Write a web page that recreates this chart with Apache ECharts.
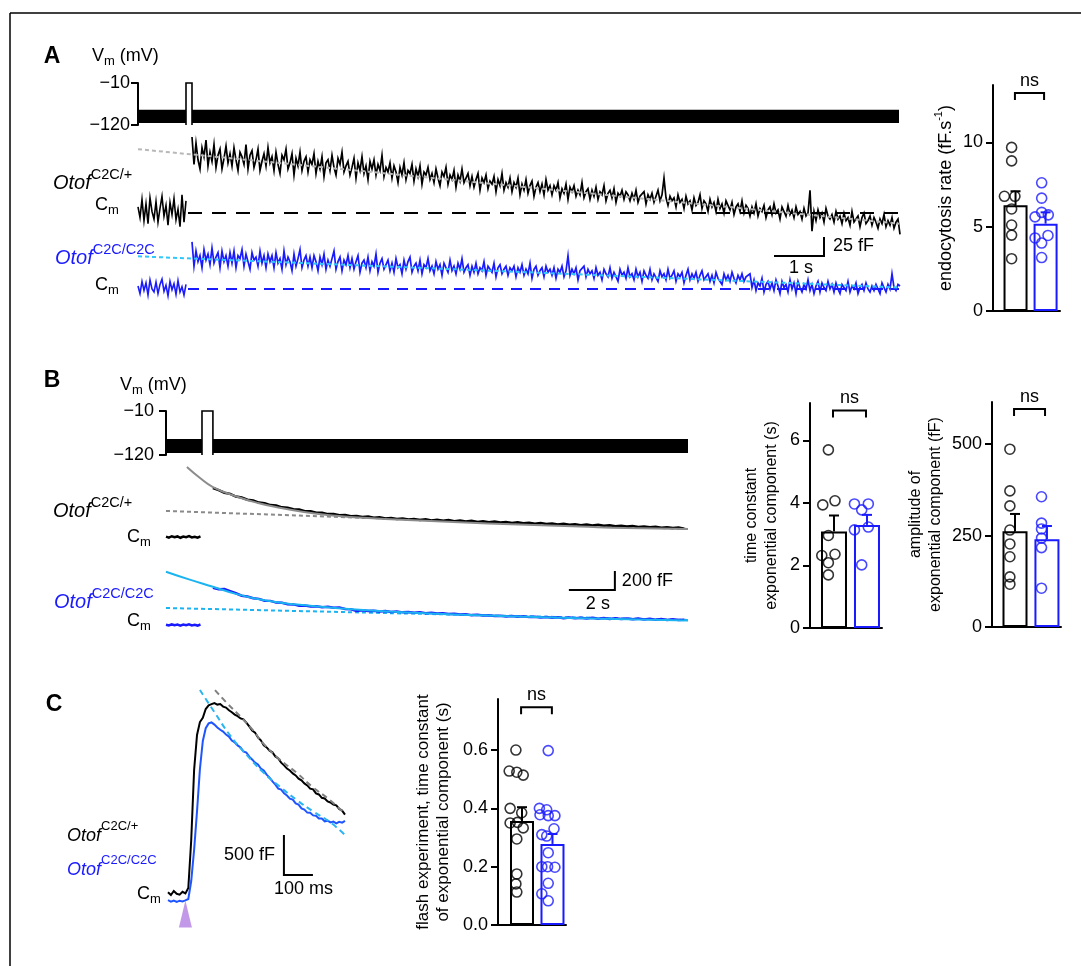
<!DOCTYPE html>
<html><head><meta charset="utf-8">
<script src="https://cdn.jsdelivr.net/npm/echarts@6/dist/echarts.min.js"></script>
<style>html,body{margin:0;padding:0;background:#fff}#c{width:1081px;height:966px}</style>
</head><body><div id="c"></div>
<script>
const FONT = "'Liberation Sans', Arial, Helvetica, sans-serif";
const BLUE = '#1a1aff';
const CYAN = '#1cb4f0';

// ---------------- Panel A ----------------
const aVmTicks = [-120, -10];
const aVmBand = [-115, -80];                 // envelope of the holding sine stimulus (mV)
const aVmSegments = [[0, 0.96], [1.08, 15.22]]; // s
const aPulse = [0.96, 1.08, -120, -10];
const aPreT0 = 0, aPreDt = 0.04, aPostT0 = 1.08, aPostDt = 0.04;
const aBkPre = [8,-6,18,-10,12,-14,20,2,-8,15,-12,6,22,-4,10,-16,14,-2,19,-9,5,-18,24,-12,16];
const aBkPost = [
100,64,92,70,58,86,74,96,62,80,68,90,60,76,84,58,72,88,66,78,
62,86,70,56,80,74,64,90,58,76,82,60,70,84,56,68,78,62,86,66,
74,56,80,64,52,76,70,84,58,66,78,50,72,62,80,56,68,74,54,70,
64,78,52,68,58,74,48,66,70,56,76,60,50,72,64,80,54,62,68,50,
60,72,46,66,56,74,52,62,44,68,58,70,50,64,56,76,48,60,54,66,
46,62,54,40,60,50,66,44,56,52,64,42,58,48,62,38,54,50,60,44,
52,40,58,46,36,54,48,60,38,50,44,56,34,50,42,58,40,46,52,36,
48,34,44,52,30,46,40,50,32,42,38,48,28,44,36,52,30,40,34,46,
28,40,34,46,24,38,30,44,26,36,42,22,34,40,28,38,24,44,30,36,
24,36,30,40,20,32,26,38,18,34,28,36,22,30,24,40,20,28,32,18,
30,22,34,18,28,24,36,16,26,30,20,32,14,26,22,30,18,28,24,16,
26,18,30,14,22,20,28,12,24,18,26,14,22,30,16,24,46,20,10,22,
16,20,8,24,14,18,6,22,12,16,4,20,10,14,24,6,16,12,2,18,
8,14,2,18,6,12,0,16,10,4,14,-2,8,12,2,16,0,10,6,-4,
8,0,12,-4,6,2,10,-6,4,8,-2,12,0,4,-8,8,2,-4,10,-2,
4,-6,8,-2,2,-8,6,-4,0,30,-24,2,-10,4,-6,0,-12,6,-4,-8,
-2,-12,2,-8,-4,-14,0,-10,-6,-16,2,-12,-8,-4,-18,-6,0,-14,-10,-4,
-16,-6,-12,-20,-8,-14,-2,-18,-10,-16,-6,-20,-12,-8,-28];
const aBlPre = [4,-6,10,-2,8,-8,12,0,-4,9,-6,6,13,-3,5,-9,10,-1,7,-7,11,-4,3,-8,6];
const aBlPost = [
62,30,50,36,44,28,52,38,46,32,54,34,42,48,28,50,36,44,30,48,
34,50,28,44,40,52,30,46,36,26,48,38,42,30,50,34,44,28,46,36,
44,28,48,34,40,26,50,32,42,36,24,46,30,40,52,28,38,44,30,42,
28,44,36,24,42,32,46,26,38,30,40,50,26,36,42,24,38,32,44,28,
40,26,36,44,22,34,38,28,42,24,36,30,46,22,34,40,26,32,38,24,
34,22,40,28,32,20,38,26,36,42,22,30,34,24,38,20,32,28,40,24,
30,20,36,26,32,18,34,28,22,38,24,30,20,34,26,40,22,28,32,18,
30,22,34,20,28,24,36,18,30,26,22,34,16,28,32,20,26,30,18,28,
24,30,16,28,22,32,18,26,20,34,14,26,30,18,24,28,16,30,22,26,
18,28,14,26,22,30,16,24,44,18,26,20,28,12,24,22,30,16,26,20,
24,14,28,18,22,12,26,20,16,28,14,22,24,10,26,18,22,14,28,16,
20,12,26,16,22,10,24,18,14,26,12,20,22,10,24,16,20,12,26,14,
18,24,10,20,16,22,8,18,26,12,20,14,22,10,18,24,12,16,20,10,
18,8,22,14,16,6,20,12,18,10,22,14,8,18,12,20,10,16,14,20,
2,12,-2,8,4,14,-4,6,10,0,8,-2,12,4,-6,10,2,6,-4,12,
0,8,-6,10,2,-4,6,0,12,-2,6,-6,4,10,-4,8,2,-2,10,0,
6,-4,8,0,-6,6,2,-2,10,-4,4,0,8,-6,2,6,-2,8,0,-4,
4,-2,6,0,-6,8,2,-4,6,0,20,2,-2,6,4];
const aBkFit = [[0, 84], [15.22, -14]];
const aBlFit = [[0, 43], [15.22, 2]];
const aBaseline = [[1.0, 0], [15.22, 0]];
const aScale = [12.72, -56.6, 13.72, -31.6];   // 1 s, 25 fF
// bar: endocytosis rate
const aRateMean = [6.27, 5.18];
const aRateSem = [0.83, 0.67];
const aRateCtl = [9.7, 8.9, 6.8, 6.8, 6.05, 5.1, 4.5, 3.1];
const aRateCtlJit = [-0.13, -0.13, -0.37, -0.02, -0.13, -0.13, -0.13, -0.13];
const aRateMut = [7.6, 6.69, 5.85, 5.58, 5.7, 4.33, 4.48, 4.03, 3.17];
const aRateMutJit = [-0.13, -0.13, -0.13, -0.35, 0.09, -0.35, 0.08, -0.13, -0.13];
const aRateTicks = [0, 5, 10];

// ---------------- Panel B ----------------
const bVmSegments = [[0, 1.565], [2.04, 22.7]];
const bPulse = [1.565, 2.04, -120, -10];
const bPreT0 = 0, bPreDt = 0.125, bPostT0 = 2.04, bPostDt = 0.25;
const bBkPre = [4,-6,8,-3,6,-8,5,-2,9,-5,3,-7,6];
const bBkPost = [516,494,466,454,426,416,392,384,362,356,
336,332,312,309,292,290,272,271,256,255,
241,243,229,232,219,222,210,215,202,207,
195,200,189,194,184,190,180,186,175,181,
170,178,166,173,163,170,159,166,156,162,
152,158,148,155,144,151,140,147,137,142,
132,139,129,135,125,131,121,128,118,123,
114,119,110,115,106,111,102,107,98,103,
94,99,88];
const bBkFit = [[0.91,737],[1.48,621],[2.04,526],[3,432],[4,358],[5,305],[6,263],[7,232],[8,211],[10,184],[12,163],[14,142],[16,126],[18,110],[20,95],[22.7,84]];
const bBkLin = [[0, 274], [22.7, 84]];
const bBlPre = [3,-5,6,-2,5,-6,4,-3,7,-4,2,-6,5];
const bBlPost = [392,376,378,356,334,308,300,281,275,256,
254,236,233,218,217,203,205,194,198,188,
193,182,183,168,165,148,154,147,151,142,
147,138,143,133,138,129,134,125,129,120,
124,115,119,110,114,104,108,99,103,94,
98,90,95,86,92,83,88,80,85,76,
81,72,79,70,77,68,75,66,73,64,
71,62,69,60,67,58,65,56,63,54,
60,52,56];
const bBlFit = [[0,561],[1,480],[2.04,403],[3,330],[4.22,263],[5.7,215],[7.13,185],[8.57,158],[11.48,121],[14.52,95],[17.57,74],[20.6,58],[22.7,47]];
const bBlLin = [[0, 179], [22.7, 53]];
const bScale = [17.52, 368, 19.52, 568];   // 2 s, 200 fF
const bTauMean = [3.09, 3.30], bTauSem = [0.51, 0.32];
const bTauCtl = [5.7, 3.94, 4.07, 2.96, 2.32, 2.36, 2.09, 1.70];
const bTauCtlJit = [-0.17, -0.34, 0.03, -0.17, -0.37, 0.03, -0.17, -0.17];
const bTauMut = [3.97, 3.97, 3.78, 3.14, 3.23, 2.02];
const bTauMutJit = [-0.38, 0.04, -0.16, -0.38, 0.04, -0.16];
const bTauTicks = [0, 2, 4, 6];
const bAmpMean = [262, 240], bAmpSem = [47, 36];
const bAmpCtl = [486, 372, 331, 265, 227, 192, 137, 117];
const bAmpCtlJit = [-0.16, -0.16, -0.16, -0.16, -0.16, -0.16, -0.16, -0.16];
const bAmpMut = [356, 284, 268, 243, 217, 106];
const bAmpMutJit = [-0.17, -0.17, -0.17, -0.17, -0.17, -0.17];
const bAmpTicks = [0, 250, 500];

// ---------------- Panel C ----------------
const cT0 = -65, cDt = 10;   // ms
const cBk = [110,75,125,90,80,115,95,
162,760,1637,2075,2237,2290,2400,2445,2460,2475,
2455,2462,2430,2418,2385,2360,2330,2310,2282,2270,
2230,2182,2130,2105,2045,2008,1945,1920,1880,1858,
1805,1782,1730,1695,1655,1632,1595,1570,1530,1508,
1470,1445,1405,1395,1345,1332,1290,1282,1245,1232,
1205,1195,1150,1130,1080];
const cBl = [10,-8,6,-12,4,-5,8,
25,250,640,1120,1650,2000,2160,2220,2232,2205,
2170,2140,2118,2080,2055,2005,1982,1945,1918,1870,
1856,1805,1768,1730,1706,1655,1630,1580,1542,1495,
1455,1405,1392,1345,1318,1280,1268,1220,1205,1158,
1142,1105,1104,1070,1066,1032,1030,996,1004,982,
992,970,990,980,1002];
const cBkFit = [[97,2637],[138,2475],[183,2312],[230,2125],[262,1975],[320,1770],[379,1600],[435,1420],[493,1262],[545,1087]];
const cBlFit = [[45,2637],[97,2350],[148,2075],[205,1830],[262,1612],[320,1430],[379,1262],[435,1120],[493,987],[545,825]];
const cFlash = [[-5, -162]];
const cScale = [334.5, 325, 434.5, 825];  // 100 ms, 500 fF
const cTauMean = [0.357, 0.278], cTauSem = [0.047, 0.034];
const cTauCtl = [0.600,0.528,0.524,0.514,0.40,0.385,0.35,0.352,0.333,0.295,0.175,0.141,0.113];
const cTauCtlJit = [-0.2,-0.42,-0.17,0.04,-0.39,-0.01,-0.39,-0.15,0.04,-0.17,-0.17,-0.2,-0.17];
const cTauMut = [0.598,0.40,0.395,0.378,0.375,0.375,0.33,0.31,0.305,0.248,0.20,0.20,0.198,0.143,0.107,0.083];
const cTauMutJit = [-0.14,-0.43,-0.19,-0.41,-0.14,0.08,0.05,-0.35,-0.19,-0.14,-0.35,-0.16,0.08,-0.14,-0.35,-0.14];
const cTauTicks = [0, 0.2, 0.4, 0.6];

// ---------------- helpers ----------------
const grids = [
  {left:138, top:83, width:761, height:42},
  {left:138, top:129.4, width:761, height:129.2},
  {left:138, top:235.8, width:761, height:68.4},
  {left:993, top:85, width:67, height:226},
  {left:166, top:411, width:522, height:44},
  {left:166, top:461, width:522, height:95},
  {left:166, top:558.5, width:522, height:76},
  {left:810, top:403, width:72, height:225},
  {left:992, top:402, width:69, height:225},
  {left:168, top:685, width:177, height:248},
  {left:498, top:699, width:68, height:226}
];
function hid(k, min, max) { return {type:'value', gridIndex:k, min:min, max:max, show:false}; }
function barX(k, min, max) {
  return {type:'value', gridIndex:k, min:min, max:max,
    axisLine:{show:true, onZero:false, lineStyle:{color:'#000', width:2}},
    axisTick:{show:false}, axisLabel:{show:false}, splitLine:{show:false}};
}
function visY(k, min, max, ticks, fmt, margin, name, nameGap, nameSize, rich) {
  const o = {type:'value', gridIndex:k, min:min, max:max,
    axisLine:{show:true, onZero:false, lineStyle:{color:'#000', width:2}},
    axisTick:{show:true, length:7, lineStyle:{color:'#000', width:2}, customValues:ticks},
    axisLabel:{show:true, margin:margin, color:'#000', fontSize:18, fontFamily:FONT, customValues:ticks, formatter:fmt},
    splitLine:{show:false}};
  if (name) {
    o.name = name; o.nameLocation = 'middle'; o.nameRotate = 90; o.nameGap = nameGap;
    o.nameTextStyle = {color:'#000', fontSize:nameSize, fontFamily:FONT, lineHeight:20, rich:rich || {}};
  }
  return o;
}
const vmFmt = v => '\u2212' + Math.abs(v);
function pairs(arr, t0, dt) { return arr.map((v, i) => [t0 + i * dt, v]); }
function line(k, data, color, width, dash, z) {
  return {type:'line', xAxisIndex:k, yAxisIndex:k, data:data, showSymbol:false, symbol:'none',
    smooth:false, clip:false, z:z || 2, silent:true, sampling:null,
    lineStyle:{color:color, width:width, type:dash || 'solid', cap:'butt', join:'miter'}};
}
function bandSeries(k, segs, band) {
  return {type:'custom', xAxisIndex:k, yAxisIndex:k, silent:true, z:2,
    data: segs.map(s => [s[0], s[1], band[0], band[1]]),
    renderItem(p, api) {
      const a = api.coord([api.value(0), api.value(3)]), b = api.coord([api.value(1), api.value(2)]);
      return {type:'rect', shape:{x:a[0], y:a[1], width:b[0]-a[0], height:b[1]-a[1]}, style:{fill:'#000'}};
    }};
}
function pulseLine(k, p) {
  return line(k, [[p[0], p[2]], [p[0], p[3]], [p[1], p[3]], [p[1], p[2]]], '#000', 1.6);
}
function barSeries(k, means, w) {
  return {type:'bar', xAxisIndex:k, yAxisIndex:k, barWidth:w, z:3, silent:true,
    data:[{value:[0, means[0]], itemStyle:{borderColor:'#000'}}, {value:[1, means[1]], itemStyle:{borderColor:BLUE}}],
    itemStyle:{color:'#fff', borderWidth:2}};
}
function errSeries(k, x, mean, sem, color) {
  return {type:'custom', xAxisIndex:k, yAxisIndex:k, z:4, silent:true, data:[[x, mean, mean + sem]],
    renderItem(p, api) {
      const b = api.coord([api.value(0), api.value(1)]), t = api.coord([api.value(0), api.value(2)]);
      return {type:'group', children:[
        {type:'line', shape:{x1:b[0], y1:b[1], x2:t[0], y2:t[1]}, style:{stroke:color, lineWidth:2}},
        {type:'line', shape:{x1:t[0]-5, y1:t[1], x2:t[0]+5, y2:t[1]}, style:{stroke:color, lineWidth:2}}]};
    }};
}
function dots(k, vals, jit, base, color) {
  return {type:'scatter', xAxisIndex:k, yAxisIndex:k, z:5, silent:true, symbol:'circle', symbolSize:10,
    data: vals.map((v, i) => [base + jit[i], v]),
    itemStyle:{color:'rgba(255,255,255,0)', borderColor:color, borderWidth:1.6}};
}
function nsSeries(k, x1, x2, y) {
  return {type:'custom', xAxisIndex:k, yAxisIndex:k, z:5, silent:true, clip:false, data:[[x1, x2, y]],
    renderItem(p, api) {
      const a = api.coord([api.value(0), api.value(2)]), b = api.coord([api.value(1), api.value(2)]);
      return {type:'group', children:[
        {type:'polyline', shape:{points:[[a[0], a[1]+7], [a[0], a[1]], [b[0], b[1]], [b[0], b[1]+7]]},
          style:{stroke:'#000', lineWidth:2, fill:null}},
        {type:'text', style:{text:'ns', x:(a[0]+b[0])/2, y:a[1]-3, align:'center', verticalAlign:'bottom',
          textAlign:'center', textVerticalAlign:'bottom', fontSize:18, fontFamily:FONT, fill:'#000'}}]};
    }};
}
function scaleSeries(k, bar, o) {
  return {type:'custom', xAxisIndex:k, yAxisIndex:k, z:6, silent:true, clip:false, data:[bar],
    renderItem(p, api) {
      const x0 = api.value(0), y0 = api.value(1), x1 = api.value(2), y1 = api.value(3);
      const vx = o.vLeft ? x0 : x1;
      const a = api.coord([x0, y0]), b = api.coord([x1, y0]), c = api.coord([vx, y0]), d = api.coord([vx, y1]);
      const pts = o.vLeft ? [d, c, b] : [a, b, d];
      return {type:'group', children:[
        {type:'polyline', shape:{points:pts}, style:{stroke:'#000', lineWidth:2, fill:null}},
        {type:'text', style:{text:o.vText, x:o.vLeft ? c[0]-9 : c[0]+o.vdx, y:(c[1]+d[1])/2,
          align:o.vLeft ? 'right' : 'left', verticalAlign:'middle', textAlign:o.vLeft ? 'right' : 'left',
          textVerticalAlign:'middle', fontSize:18, fontFamily:FONT, fill:'#000'}},
        {type:'text', style:{text:o.hText, x:(a[0]+b[0])/2 + o.hdx, y:a[1]+o.hdy, align:'center', verticalAlign:'top',
          textAlign:'center', textVerticalAlign:'top', fontSize:18, fontFamily:FONT, fill:'#000'}}]};
    }};
}

// ---------------- text graphics ----------------
function geno(x, y, sup, color, size, supSize) {
  return {type:'text', x:x, y:y, silent:true, style:{text:'{o|Otof}{s|' + sup + '}', align:'left', verticalAlign:'middle',
    rich:{o:{fontStyle:'italic', fontSize:size, fontFamily:FONT, lineHeight:32, fill:color, color:color},
          s:{fontSize:supSize, fontFamily:FONT, lineHeight:13, verticalAlign:'top', fill:color, color:color}}}};
}
function cm(x, y) {
  return {type:'text', x:x, y:y, silent:true, style:{text:'{c|C}{m|m}', align:'left', verticalAlign:'middle',
    rich:{c:{fontSize:18, fontFamily:FONT, lineHeight:24, fill:'#000'},
          m:{fontSize:13, fontFamily:FONT, lineHeight:12, verticalAlign:'bottom', fill:'#000'}}}};
}
function vm(x, y) {
  return {type:'text', x:x, y:y, silent:true, style:{text:'{v|V}{m|m}{v| (mV)}', align:'left', verticalAlign:'middle',
    rich:{v:{fontSize:18, fontFamily:FONT, lineHeight:24, fill:'#000'},
          m:{fontSize:13, fontFamily:FONT, lineHeight:12, verticalAlign:'bottom', fill:'#000'}}}};
}
function letter(x, y, t) {
  return {type:'text', x:x, y:y, silent:true, style:{text:t, align:'center', verticalAlign:'middle',
    fontSize:23, fontWeight:'bold', fontFamily:FONT, fill:'#000'}};
}

const graphic = [
  {type:'line', silent:true, shape:{x1:10, y1:13, x2:1081, y2:13}, style:{stroke:'#000', lineWidth:1.5}},
  {type:'line', silent:true, shape:{x1:10, y1:13, x2:10, y2:966}, style:{stroke:'#000', lineWidth:1.5}},
  letter(52, 57, 'A'), letter(52, 381, 'B'), letter(54, 705, 'C'),
  vm(92, 56), vm(120, 385),
  geno(53, 183, 'C2C/+', '#000', 20, 14.5), cm(95, 205), geno(55, 258, 'C2C/C2C', BLUE, 20, 14.5), cm(95, 285),
  geno(53, 511, 'C2C/+', '#000', 20, 14.5), cm(127, 537), geno(54, 602, 'C2C/C2C', BLUE, 20, 14.5), cm(127, 621),
  geno(67, 836, 'C2C/+', '#000', 18, 13), geno(67, 870, 'C2C/C2C', BLUE, 18, 13), cm(137, 894)
];

const option = {
  animation:false,
  backgroundColor:'#fff',
  textStyle:{fontFamily:FONT},
  grid: grids.map(g => Object.assign({containLabel:false, outerBoundsMode:'none'}, g)),
  xAxis: [
    hid(0, 0, 15.22), hid(1, 0, 15.22), hid(2, 0, 15.22), barX(3, -0.75, 1.48),
    hid(4, 0, 22.7), hid(5, 0, 22.7), hid(6, 0, 22.7), barX(7, -0.727, 1.455), barX(8, -0.72, 1.44),
    hid(9, -65, 545), barX(10, -0.787, 1.443)
  ],
  yAxis: [
    visY(0, -120, -10, aVmTicks, vmFmt, 8),
    hid(1, -60, 110), hid(2, -20, 70),
    visY(3, 0, 13.4, aRateTicks, v => String(v), 10, '{n|endocytosis rate (fF.s}{p|-1}{n|)}', 31, 18,
      {n:{fontSize:18, fontFamily:FONT, color:'#000', lineHeight:26}, p:{fontSize:11, fontFamily:FONT, color:'#000', lineHeight:11, verticalAlign:'top'}}),
    visY(4, -120, -10, aVmTicks, vmFmt, 12),
    hid(5, -200, 800), hid(6, -100, 700),
    visY(7, 0, 7.2, bTauTicks, v => String(v), 10, 'time constant\nexponential component (s)', 28, 16),
    visY(8, 0, 615, bAmpTicks, v => String(v), 10, 'amplitude of\nexponential component (fF)', 46, 16),
    hid(9, -400, 2700),
    visY(10, 0, 0.775, cTauTicks, v => v.toFixed(1), 10, 'flash experiment, time constant\nof exponential component (s)', 45, 17)
  ],
  series: [
    // A Vm
    bandSeries(0, aVmSegments, aVmBand), pulseLine(0, aPulse),
    // A traces
    line(1, aBaseline, '#000', 2, [14, 10]),
    line(1, pairs(aBkPre, aPreT0, aPreDt), '#000', 1.6),
    line(1, pairs(aBkPost, aPostT0, aPostDt), '#000', 1.7),
    line(1, aBkFit, '#b8b8b8', 2, [4, 3], 3),
    line(2, aBaseline, BLUE, 2, [11, 8]),
    line(2, pairs(aBlPre, aPreT0, aPreDt), BLUE, 1.6),
    line(2, pairs(aBlPost, aPostT0, aPostDt), BLUE, 1.7),
    line(2, aBlFit, '#30c8f8', 2, [4, 3], 3),
    scaleSeries(1, aScale, {vText:'25 fF', hText:'1 s', vdx:9, hdx:2, hdy:3}),
    // A bars
    barSeries(3, aRateMean, 24),
    errSeries(3, 0, aRateMean[0], aRateSem[0], '#000'), errSeries(3, 1, aRateMean[1], aRateSem[1], BLUE),
    dots(3, aRateCtl, aRateCtlJit, 0, '#000'), dots(3, aRateMut, aRateMutJit, 1, BLUE),
    nsSeries(3, -0.02, 0.95, 12.92),
    // B Vm
    bandSeries(4, bVmSegments, aVmBand), pulseLine(4, bPulse),
    // B traces
    line(5, bBkLin, '#8a8a8a', 2, [4, 3]),
    line(5, pairs(bBkPre, bPreT0, bPreDt), '#000', 2.5),
    line(5, pairs(bBkPost, bPostT0, bPostDt), '#000', 2.5),
    Object.assign(line(5, bBkFit, '#8c8c8c', 2, 'solid', 3), {smooth:true}),
    line(6, bBlLin, CYAN, 2, [4, 3]),
    line(6, pairs(bBlPre, bPreT0, bPreDt), BLUE, 2.5),
    line(6, pairs(bBlPost, bPostT0, bPostDt), BLUE, 2.5),
    Object.assign(line(6, bBlFit, CYAN, 2, 'solid', 3), {smooth:true}),
    scaleSeries(6, bScale, {vText:'200 fF', hText:'2 s', vdx:7, hdx:6, hdy:5}),
    // B bars
    barSeries(7, bTauMean, 26),
    errSeries(7, 0, bTauMean[0], bTauSem[0], '#000'), errSeries(7, 1, bTauMean[1], bTauSem[1], BLUE),
    dots(7, bTauCtl, bTauCtlJit, 0, '#000'), dots(7, bTauMut, bTauMutJit, 1, BLUE),
    nsSeries(7, -0.03, 0.97, 6.96),
    barSeries(8, bAmpMean, 25),
    errSeries(8, 0, bAmpMean[0], bAmpSem[0], '#000'), errSeries(8, 1, bAmpMean[1], bAmpSem[1], BLUE),
    dots(8, bAmpCtl, bAmpCtlJit, 0, '#000'), dots(8, bAmpMut, bAmpMutJit, 1, BLUE),
    nsSeries(8, -0.03, 0.94, 596),
    // C traces
    line(9, pairs(cBk, cT0, cDt), '#000', 2),
    line(9, pairs(cBl, cT0, cDt), '#1f55ff', 2),
    Object.assign(line(9, cBkFit, '#808080', 2, [6, 4], 3), {smooth:true}),
    Object.assign(line(9, cBlFit, '#2ab4f0', 2, [6, 4], 3), {smooth:true}),
    {type:'scatter', xAxisIndex:9, yAxisIndex:9, silent:true, symbol:'triangle', symbolSize:[13, 27],
      data:cFlash, itemStyle:{color:'#b27fe2'}, z:4},
    scaleSeries(9, cScale, {vLeft:true, vText:'500 fF', hText:'100 ms', hdx:5, hdy:5}),
    // C bars
    barSeries(10, cTauMean, 24),
    errSeries(10, 0, cTauMean[0], cTauSem[0], '#000'), errSeries(10, 1, cTauMean[1], cTauSem[1], BLUE),
    dots(10, cTauCtl, cTauCtlJit, 0, '#000'), dots(10, cTauMut, cTauMutJit, 1, BLUE),
    nsSeries(10, -0.03, 0.98, 0.747)
  ],
  graphic: graphic
};
const chart = echarts.init(document.getElementById('c'), null, {renderer:'canvas'});
chart.setOption(option);
</script></body></html>
